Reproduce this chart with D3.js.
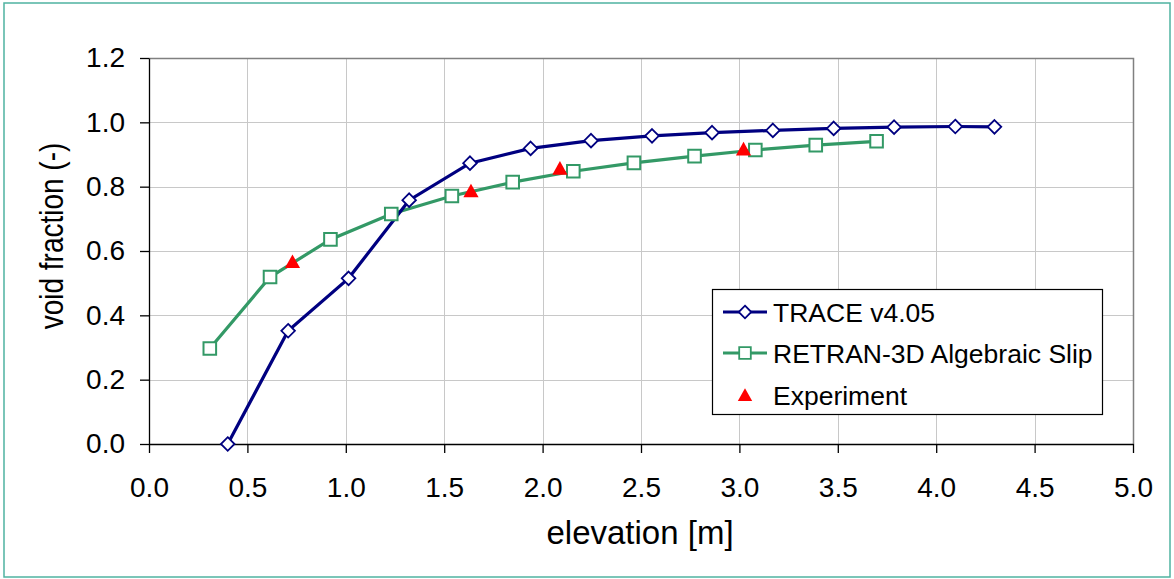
<!DOCTYPE html>
<html>
<head>
<meta charset="utf-8">
<script src="https://cdn.jsdelivr.net/npm/d3@7"></script>
<style>
  html, body { margin: 0; padding: 0; background: #fff; }
  svg { display: block; font-family: "Liberation Sans", Arial, sans-serif; }
</style>
</head>
<body>
<svg id="chart" width="1174" height="579"></svg>
<script>
// Axis ticks
const xTicks = [0, 0.5, 1.0, 1.5, 2.0, 2.5, 3.0, 3.5, 4.0, 4.5, 5.0];
const yTicks = [0, 0.2, 0.4, 0.6, 0.8, 1.0, 1.2];

// TRACE v4.05 results
const traceX = [0.40, 0.707, 1.014, 1.322, 1.631, 1.939, 2.246, 2.556, 2.861, 3.170, 3.479, 3.786, 4.097, 4.296];
const traceY = [0.000, 0.352, 0.515, 0.758, 0.873, 0.919, 0.943, 0.958, 0.968, 0.975, 0.981, 0.985, 0.987, 0.986];

// RETRAN-3D Algebraic Slip results
const retranX = [0.309, 0.615, 0.922, 1.231, 1.539, 1.848, 2.156, 2.464, 2.772, 3.081, 3.388, 3.697];
const retranY = [0.297, 0.519, 0.636, 0.715, 0.771, 0.814, 0.848, 0.874, 0.895, 0.914, 0.929, 0.941];

// Measured void fraction
const expX = [0.729, 1.636, 2.088, 3.021];
const expY = [0.567, 0.787, 0.857, 0.917];

const seriesNames = ["TRACE v4.05", "RETRAN-3D Algebraic Slip", "Experiment"];

const navy = "#000080", green = "#339966", red = "#ff0000";

const svg = d3.select("#chart");
const m = { left: 149, top: 58, right: 1133, bottom: 444 };

// Outer frame
svg.append("rect")
  .attr("x", 4).attr("y", 3).attr("width", 1166).attr("height", 574)
  .attr("fill", "#fff").attr("stroke", "#4fb3a1").attr("stroke-width", 1.5);

const x = d3.scaleLinear().domain([0, 5]).range([m.left, m.right]);
const y = d3.scaleLinear().domain([0, 1.2]).range([m.bottom, m.top]);

// Gridlines
const grid = svg.append("g");
grid.selectAll("line.v").data(xTicks.slice(1, -1)).join("line")
  .attr("x1", d => Math.round(x(d)) + 0.5).attr("x2", d => Math.round(x(d)) + 0.5)
  .attr("y1", m.top).attr("y2", m.bottom)
  .attr("stroke", "#c8c8c8").attr("stroke-width", 1);
grid.selectAll("line.h").data(yTicks.slice(1, -1)).join("line")
  .attr("y1", d => Math.round(y(d)) + 0.5).attr("y2", d => Math.round(y(d)) + 0.5)
  .attr("x1", m.left).attr("x2", m.right)
  .attr("stroke", "#c8c8c8").attr("stroke-width", 1);

// Plot area top and right border
svg.append("path")
  .attr("d", `M${m.left},${m.top + 0.5}H${m.right + 0.5}V${m.bottom}`)
  .attr("fill", "none").attr("stroke", "#808080").attr("stroke-width", 1.5);

// Axes
const xAxis = d3.axisBottom(x).tickValues(xTicks).tickFormat(d3.format(".1f"))
  .tickSizeInner(9).tickSizeOuter(0).tickPadding(24);
const yAxis = d3.axisLeft(y).tickValues(yTicks).tickFormat(d3.format(".1f"))
  .tickSizeInner(9).tickSizeOuter(0).tickPadding(15);

const gx = svg.append("g").attr("transform", `translate(0,${m.bottom})`).call(xAxis);
const gy = svg.append("g").attr("transform", `translate(${m.left},0)`).call(yAxis);
[gx, gy].forEach(g => {
  g.select(".domain").attr("stroke", "#000").attr("stroke-width", 1.3);
  g.selectAll(".tick line").attr("stroke", "#000").attr("stroke-width", 1.3);
  g.selectAll(".tick text").attr("fill", "#000").attr("font-size", 28)
    .attr("font-family", "Liberation Sans, Arial, sans-serif");
});

// Axis titles
svg.append("text")
  .attr("x", 640).attr("y", 544).attr("text-anchor", "middle")
  .attr("font-size", 33).attr("fill", "#000").text("elevation [m]");
svg.append("text")
  .attr("transform", "translate(63,236) scale(1.2,1) rotate(-90)").attr("text-anchor", "middle")
  .attr("font-size", 28).attr("fill", "#000").text("void fraction (-)");

// Series
const line = d3.line().x(d => x(d[0])).y(d => y(d[1]));
const tracePts = traceX.map((v, i) => [v, traceY[i]]);
const retranPts = retranX.map((v, i) => [v, retranY[i]]);
const expPts = expX.map((v, i) => [v, expY[i]]);

svg.append("path").datum(retranPts).attr("d", line)
  .attr("fill", "none").attr("stroke", green).attr("stroke-width", 3.2);
svg.append("path").datum(tracePts).attr("d", line)
  .attr("fill", "none").attr("stroke", navy).attr("stroke-width", 3.2);

const diamond = s => `M0,${-s}L${s},0L0,${s}L${-s},0Z`;
const square = s => `M${-s},${-s}H${s}V${s}H${-s}Z`;
const triangle = s => `M0,${-s * 0.95}L${s},${s * 0.85}L${-s},${s * 0.85}Z`;

svg.append("g").selectAll("path").data(retranPts).join("path")
  .attr("transform", d => `translate(${x(d[0])},${y(d[1])})`)
  .attr("d", square(6.3)).attr("fill", "#fff").attr("stroke", green).attr("stroke-width", 2);
svg.append("g").selectAll("path").data(tracePts).join("path")
  .attr("transform", d => `translate(${x(d[0])},${y(d[1])})`)
  .attr("d", diamond(6.8)).attr("fill", "#fff").attr("stroke", navy).attr("stroke-width", 1.8);
svg.append("g").selectAll("path").data(expPts).join("path")
  .attr("transform", d => `translate(${x(d[0])},${y(d[1])})`)
  .attr("d", triangle(7.6)).attr("fill", red);

// Legend
const lg = svg.append("g");
lg.append("rect").attr("x", 712.5).attr("y", 289.5).attr("width", 390).attr("height", 125)
  .attr("fill", "#fff").attr("stroke", "#000").attr("stroke-width", 1.2);
const rows = [
  { name: seriesNames[0], color: navy, mark: diamond(6.3), fill: "#fff", line: true, cy: 312 },
  { name: seriesNames[1], color: green, mark: square(5.8), fill: "#fff", line: true, cy: 353 },
  { name: seriesNames[2], color: red, mark: triangle(7.2), fill: red, line: false, cy: 395 }
];
rows.forEach(r => {
  if (r.line) {
    lg.append("line").attr("x1", 723).attr("x2", 767).attr("y1", r.cy).attr("y2", r.cy)
      .attr("stroke", r.color).attr("stroke-width", 3.2);
    lg.append("path").attr("transform", `translate(745,${r.cy})`).attr("d", r.mark)
      .attr("fill", r.fill).attr("stroke", r.color).attr("stroke-width", 1.8);
  } else {
    lg.append("path").attr("transform", `translate(745,${r.cy})`).attr("d", r.mark)
      .attr("fill", r.fill);
  }
  lg.append("text").attr("x", 773).attr("y", r.cy).attr("dy", "0.36em")
    .attr("font-size", 26.5).attr("fill", "#000").text(r.name);
});
</script>
</body>
</html>
